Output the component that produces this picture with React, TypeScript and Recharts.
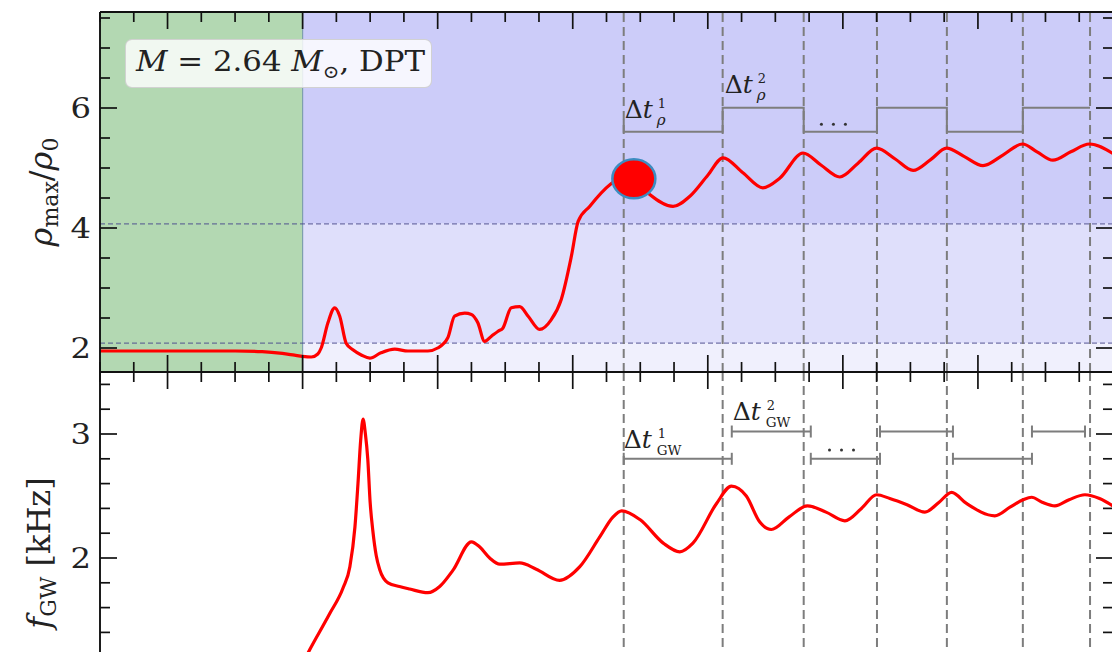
import React from 'react';
import {
  ComposedChart,
  Line,
  Scatter,
  XAxis,
  YAxis,
  ReferenceArea,
  ReferenceLine,
  ReferenceDot,
} from 'recharts';

// ---------------- data ----------------
const rhoT = [-6, -4, -2, -1.2, -0.6, -0.24, 0.0, 0.26, 0.45, 0.55, 0.75, 0.95, 1.1, 1.29, 1.49, 1.75, 1.99, 2.32, 2.73, 3.12, 3.71, 4.0, 4.3, 4.5, 4.8, 5.0, 5.19, 5.39, 5.6, 5.79, 5.93, 6.18, 6.43, 6.68, 7.02, 7.36, 7.66, 7.96, 8.16, 8.5, 9.1, 9.5, 9.81, 10.28, 10.97, 11.47, 12.0, 12.45, 13.04, 13.63, 14.13, 14.82, 15.35, 15.91, 16.45, 17.0, 17.55, 18.08, 18.6, 19.07, 19.6, 20.15, 20.75, 21.32, 21.75, 22.22, 22.75, 23.3, 24.0];
const rhoV = [1.95, 1.95, 1.95, 1.94, 1.91, 1.88, 1.86, 1.85, 1.9, 2.0, 2.42, 2.67, 2.53, 2.08, 1.97, 1.88, 1.83, 1.92, 1.98, 1.95, 1.95, 2.0, 2.17, 2.53, 2.58, 2.56, 2.42, 2.11, 2.2, 2.28, 2.33, 2.67, 2.69, 2.53, 2.31, 2.47, 2.81, 3.53, 4.11, 4.36, 4.72, 4.85, 4.82, 4.56, 4.36, 4.53, 4.88, 5.17, 4.92, 4.67, 4.83, 5.25, 5.05, 4.85, 5.08, 5.33, 5.15, 4.96, 5.14, 5.33, 5.19, 5.04, 5.22, 5.4, 5.27, 5.13, 5.27, 5.4, 5.24];

const fT = [0.0, 0.21, 0.8, 1.2, 1.4, 1.55, 1.64, 1.72, 1.79, 1.86, 1.93, 2.0, 2.08, 2.18, 2.28, 2.53, 2.87, 3.17, 3.71, 4.06, 4.45, 5.0, 5.24, 5.54, 5.84, 6.43, 6.92, 7.61, 8.21, 8.8, 9.19, 9.45, 9.99, 10.68, 11.17, 11.56, 12.26, 12.7, 13.14, 13.54, 13.88, 14.4, 14.95, 15.5, 16.06, 16.55, 17.0, 17.39, 17.9, 18.43, 18.85, 19.22, 19.66, 20.5, 20.95, 21.34, 21.59, 21.9, 22.28, 22.7, 23.17, 23.6, 24.0];
const fV = [1.15, 1.26, 1.55, 1.76, 1.93, 2.25, 2.6, 2.95, 3.12, 3.0, 2.8, 2.45, 2.22, 2.02, 1.91, 1.8, 1.77, 1.75, 1.72, 1.77, 1.9, 2.13, 2.09, 2.0, 1.95, 1.96, 1.91, 1.82, 1.93, 2.17, 2.33, 2.38, 2.31, 2.12, 2.05, 2.12, 2.44, 2.58, 2.5, 2.29, 2.23, 2.33, 2.42, 2.37, 2.3, 2.4, 2.51, 2.48, 2.43, 2.37, 2.45, 2.53, 2.44, 2.34, 2.41, 2.47, 2.49, 2.45, 2.42, 2.47, 2.51, 2.48, 2.42];

const dashTimes = [9.51, 12.44, 14.84, 17.01, 19.08, 21.33, 23.32];
const rhoBracketLow = 5.605;
const rhoBracketHigh = 6.005;
const rhoBracketStartTop = 5.805;

const gwBracketStarts = [9.51, 12.71, 15.05, 17.1, 19.26, 21.6];
const gwBracketEnds = [12.71, 15.05, 17.1, 19.26, 21.6, 23.17];
const gwBracketLevels = [2.8, 3.02, 2.8, 3.02, 2.8, 3.02];

const xTicks = [-6, -5, -4, -3, -2, -1, 0, 1, 2, 3, 4, 5, 6, 7, 8, 9, 10, 11, 12, 13, 14, 15, 16, 17, 18, 19, 20, 21, 22, 23, 24];
const xMajor = [-4, 0, 4, 8, 12, 16, 20, 24];
const rhoTicks = [2, 2.5, 3, 3.5, 4, 4.5, 5, 5.5, 6, 6.5, 7, 7.5];
const rhoMajor = [2, 4, 6];
const fTicks = [1.2, 1.4, 1.6, 1.8, 2, 2.2, 2.4, 2.6, 2.8, 3, 3.2, 3.4];
const fMajor = [2, 3];

const rhoThresholds = [2.08, 4.07];
const markerPoint = [{ t: 9.81, v: 4.82 }];

const rhoLabels = [
  { t: 9.54, v: 5.84, sup: '1' },
  { t: 12.5, v: 6.255, sup: '2' },
];
const gwLabels = [
  { t: 9.51, v: 2.887, sup: '1' },
  { t: 12.74, v: 3.113, sup: '2' },
];
const rhoEllipsis = { t: 15.72, v: 5.73 };
const gwEllipsis = { t: 15.96, v: 2.871 };

// ---------------- styles ----------------
const SERIF = "'DejaVu Serif', 'Liberation Serif', serif";
const AX = '#111';
const GRAY = '#7d7d7d';
const RED = '#ff0000';
const X_DOMAIN: [number, number] = [-6, 24];
const RHO_DOMAIN: [number, number] = [1.6, 7.6];
const F_DOMAIN: [number, number] = [1.0, 3.5];

const rhoData = rhoT.map((t, i) => ({ t, v: rhoV[i] }));
const fData = fT.map((t, i) => ({ t, v: fV[i] }));

const rhoBracketData: { t: number; v: number }[] = [{ t: dashTimes[0], v: rhoBracketStartTop }];
for (let i = 0; i < dashTimes.length - 1; i++) {
  const lvl = i % 2 === 0 ? rhoBracketLow : rhoBracketHigh;
  rhoBracketData.push({ t: dashTimes[i], v: lvl }, { t: dashTimes[i + 1], v: lvl });
}

const makeTick = (side: 'left' | 'right' | 'top' | 'bottom', majors: number[], label: boolean) => (props: any) => {
  const { x, y, payload } = props;
  const v = payload.value;
  const isMajor = majors.some((m) => Math.abs(m - v) < 1e-6);
  const len = isMajor ? 17 : 10;
  let x2 = x;
  let y2 = y;
  if (side === 'left') x2 = x + len;
  if (side === 'right') x2 = x - len;
  if (side === 'top') y2 = y + len;
  if (side === 'bottom') y2 = y - len;
  return (
    <g>
      <line x1={x} y1={y} x2={x2} y2={y2} stroke={AX} strokeWidth={1.7} />
      {label && isMajor ? (
        <text
          transform={`translate(${x - 9},${y}) scale(1.15,1)`}
          x={0}
          y={0}
          dy="0.36em"
          textAnchor="end"
          fontFamily={SERIF}
          fontSize={28}
          fill="#222"
        >
          {v}
        </text>
      ) : null}
    </g>
  );
};

const axisLine = { stroke: AX, strokeWidth: 1.9 };

const MarkerShape = (p: any) => (
  <ellipse cx={p.cx} cy={p.cy} rx={21.5} ry={19.5} fill={RED} stroke="#3d8cc0" strokeWidth={2.5} />
);

const deltaLabel = (sup: string, sub: string, subItalic: boolean, subOff: number) => (p: any) => (
  <text x={p.cx} y={p.cy} fontSize={25} fontFamily={SERIF} fill="#222">
    Δ<tspan fontStyle="italic">t</tspan>
    <tspan x={p.cx + subOff} dy={-10} fontSize={13}>
      {sup}
    </tspan>
    <tspan x={p.cx + subOff - 1} dy={17} fontSize={subItalic ? 15 : 13.5} fontStyle={subItalic ? 'italic' : 'normal'}>
      {sub}
    </tspan>
  </text>
);

const EllipsisShape = (p: any) => (
  <g fill="#333">
    <circle cx={p.cx - 12} cy={p.cy} r={1.5} />
    <circle cx={p.cx} cy={p.cy} r={1.5} />
    <circle cx={p.cx + 12} cy={p.cy} r={1.5} />
  </g>
);

const CapBracket = (p: any) => (
  <g stroke={GRAY} strokeWidth={2} fill="none">
    <line x1={p.x1} y1={p.y1} x2={p.x2} y2={p.y2} />
    <line x1={p.x1} y1={p.y1 - 6} x2={p.x1} y2={p.y1 + 6} />
    <line x1={p.x2} y1={p.y2 - 6} x2={p.x2} y2={p.y2 + 6} />
  </g>
);

// background layer of the top panel (spans), drawn beneath the axes
function TopBackground() {
  return (
    <ComposedChart width={1120} height={380} margin={{ top: 12, right: 7, bottom: 8, left: 100 }}>
      <XAxis dataKey="t" type="number" domain={X_DOMAIN} allowDataOverflow hide />
      <YAxis type="number" domain={RHO_DOMAIN} allowDataOverflow hide />
      <ReferenceArea x1={-6} x2={0} y1={1.6} y2={7.6} fill="#b3d8b2" fillOpacity={1} stroke="none" />
      <ReferenceArea x1={0} x2={24} y1={rhoThresholds[1]} y2={7.6} fill="#ccccf9" fillOpacity={1} stroke="none" />
      <ReferenceArea x1={0} x2={24} y1={rhoThresholds[0]} y2={rhoThresholds[1]} fill="#dfdffb" fillOpacity={1} stroke="none" />
      <ReferenceArea x1={0} x2={24} y1={1.6} y2={rhoThresholds[0]} fill="#f0f0fd" fillOpacity={1} stroke="none" />
      <ReferenceLine x={0} stroke="#7f9fae" strokeWidth={1.2} />
      {rhoThresholds.map((y) => (
        <ReferenceLine key={'h' + y} y={y} stroke="#4a4a8c" strokeOpacity={0.75} strokeWidth={1.2} strokeDasharray="5 3" />
      ))}
    </ComposedChart>
  );
}

function TopPanel() {
  return (
    <ComposedChart width={1120} height={380} margin={{ top: 11, right: 6, bottom: 7, left: 0 }}>
      <XAxis xAxisId={0} dataKey="t" type="number" domain={X_DOMAIN} allowDataOverflow ticks={xTicks} interval={0} orientation="bottom" height={1} tickSize={0} tickMargin={0} tickLine={false} tick={makeTick('bottom', xMajor, false)} axisLine={axisLine} />
      <XAxis xAxisId="top" dataKey="t" type="number" domain={X_DOMAIN} allowDataOverflow ticks={xTicks} interval={0} orientation="top" height={1} tickSize={0} tickMargin={0} tickLine={false} tick={makeTick('top', xMajor, false)} axisLine={axisLine} />
      <YAxis yAxisId={0} type="number" domain={RHO_DOMAIN} allowDataOverflow ticks={rhoTicks} interval={0} orientation="left" width={100} tickSize={0} tickMargin={0} tickLine={false} tick={makeTick('left', rhoMajor, true)} axisLine={axisLine} />
      <YAxis yAxisId="right" type="number" domain={RHO_DOMAIN} allowDataOverflow ticks={rhoTicks} interval={0} orientation="right" width={1} tickSize={0} tickMargin={0} tickLine={false} tick={makeTick('right', rhoMajor, false)} axisLine={axisLine} />

      {dashTimes.map((x) => (
        <ReferenceLine key={'v' + x} x={x} stroke={GRAY} strokeWidth={2} strokeDasharray="9 5" />
      ))}
      <Line data={rhoBracketData} dataKey="v" type="linear" stroke={GRAY} strokeWidth={2} dot={false} isAnimationActive={false} />
      {rhoLabels.map((l) => (
        <ReferenceDot key={'rl' + l.t} x={l.t} y={l.v} r={1} shape={deltaLabel(l.sup, 'ρ', true, 33)} />
      ))}
      <ReferenceDot x={rhoEllipsis.t} y={rhoEllipsis.v} r={1} shape={EllipsisShape} />
      <Line data={rhoData} dataKey="v" type="monotone" stroke={RED} strokeWidth={3.2} dot={false} isAnimationActive={false} />
      <Scatter data={markerPoint} dataKey="v" shape={MarkerShape} isAnimationActive={false} />
    </ComposedChart>
  );
}

function BottomPanel() {
  return (
    <ComposedChart width={1120} height={320} margin={{ top: 9, right: 6, bottom: 0, left: 0 }}>
      <XAxis xAxisId={0} dataKey="t" type="number" domain={X_DOMAIN} allowDataOverflow ticks={xTicks} interval={0} orientation="top" height={1} tickSize={0} tickMargin={0} tickLine={false} tick={makeTick('top', xMajor, false)} axisLine={axisLine} />
      <YAxis yAxisId={0} type="number" domain={F_DOMAIN} allowDataOverflow ticks={fTicks} interval={0} orientation="left" width={100} tickSize={0} tickMargin={0} tickLine={false} tick={makeTick('left', fMajor, true)} axisLine={axisLine} />
      <YAxis yAxisId="right" type="number" domain={F_DOMAIN} allowDataOverflow ticks={fTicks} interval={0} orientation="right" width={1} tickSize={0} tickMargin={0} tickLine={false} tick={makeTick('right', fMajor, false)} axisLine={axisLine} />

      {dashTimes.map((x) => (
        <ReferenceLine key={'v' + x} x={x} stroke={GRAY} strokeWidth={2} strokeDasharray="9 5" />
      ))}
      {gwBracketStarts.map((s, i) => (
        <ReferenceLine
          key={'b' + i}
          segment={[
            { x: s, y: gwBracketLevels[i] },
            { x: gwBracketEnds[i], y: gwBracketLevels[i] },
          ]}
          stroke={GRAY}
          shape={CapBracket}
        />
      ))}
      {gwLabels.map((l) => (
        <ReferenceDot key={'gl' + l.t} x={l.t} y={l.v} r={1} shape={deltaLabel(l.sup, 'GW', false, 34)} />
      ))}
      <ReferenceDot x={gwEllipsis.t} y={gwEllipsis.v} r={1} shape={EllipsisShape} />
      <Line data={fData} dataKey="v" type="monotone" stroke={RED} strokeWidth={3.2} dot={false} isAnimationActive={false} />
    </ComposedChart>
  );
}

export default function App() {
  return (
    <div style={{ position: 'fixed', left: 0, top: 0, width: 1112, height: 652, overflow: 'hidden', background: '#fff' }}>
      <div style={{ position: 'absolute', left: 0, top: 0 }}>
        <TopBackground />
      </div>
      <div style={{ position: 'absolute', left: 0, top: 0 }}>
        <TopPanel />
      </div>
      <div style={{ position: 'absolute', left: 0, top: 362 }}>
        <BottomPanel />
      </div>
      <div
        style={{
          position: 'absolute',
          left: 125,
          top: 39,
          width: 307,
          height: 49,
          boxSizing: 'border-box',
          background: 'rgba(255,255,255,0.82)',
          border: '1px solid rgba(205,205,205,0.9)',
          borderRadius: 7,
          fontFamily: SERIF,
          fontSize: 28,
          color: '#222',
          display: 'flex',
          alignItems: 'center',
          paddingLeft: 10,
          whiteSpace: 'nowrap',
        }}
      >
        <span style={{ display: 'inline-block', transform: 'scaleX(1.1)', transformOrigin: 'left center' }}>
          <i>M</i> = 2.64 <i>M</i>
          <sub style={{ fontSize: 18 }}>⊙</sub>, DPT
        </span>
      </div>
      <svg width={1112} height={652} style={{ position: 'absolute', left: 0, top: 0, pointerEvents: 'none' }}>
        <text transform="translate(52,192) rotate(-90)" textAnchor="middle" fontFamily={SERIF} fontSize={32} fill="#222">
          <tspan fontStyle="italic">ρ</tspan>
          <tspan fontSize={22} dy={6}>max</tspan>
          <tspan dy={-6}>/</tspan>
          <tspan fontStyle="italic">ρ</tspan>
          <tspan fontSize={22} dy={6}>0</tspan>
        </text>
        <text transform="translate(50,553) rotate(-90)" textAnchor="middle" fontFamily={SERIF} fontSize={32} fill="#222">
          <tspan fontStyle="italic">f</tspan>
          <tspan fontSize={22} dy={6}>GW</tspan>
          <tspan dy={-6}>{'\u00a0'}[kHz]</tspan>
        </text>
      </svg>
    </div>
  );
}
